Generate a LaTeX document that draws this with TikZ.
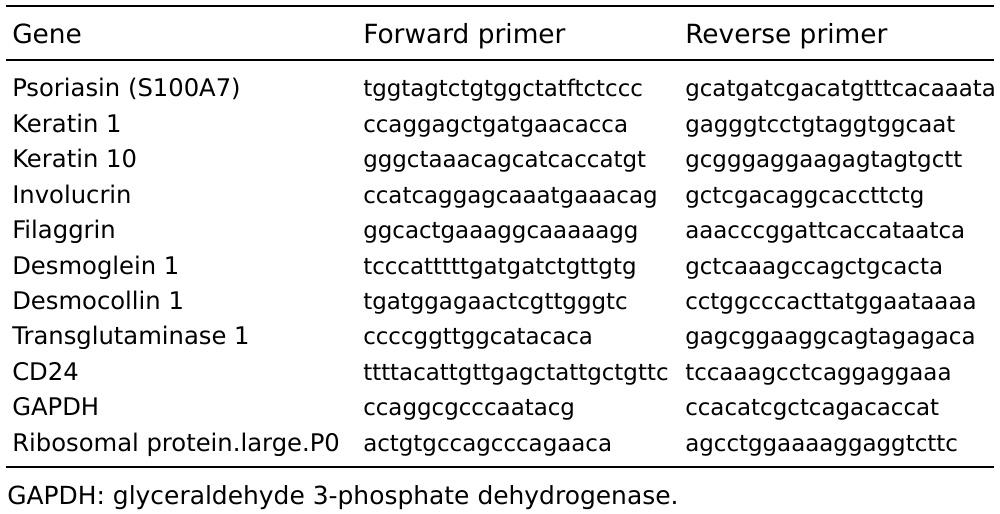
\documentclass[tikz,border=0pt]{standalone}
\usepackage{fontspec}
\setmainfont{DejaVu Sans}
\tikzstyle{cell} = [anchor=base west, inner sep=0pt, font=\fontsize{17.2}{21}\selectfont]
\tikzstyle{genecell} = [cell, font=\fontsize{18.2}{22}\selectfont]
\tikzstyle{headcell} = [cell, font=\fontsize{19.8}{24}\selectfont]
\tikzstyle{notecell} = [cell, font=\fontsize{18.7}{22}\selectfont]
\tikzstyle{rule} = [line width=1.1pt, draw=black]

\begin{document}
\begin{tikzpicture}[x=0.75pt, y=-0.75pt]
\useasboundingbox (0,0) rectangle (1000,514);

% rules
\coordinate (topL) at (6,6);     \coordinate (topR) at (994,6);
\coordinate (midL) at (6,60);    \coordinate (midR) at (994,60);
\coordinate (botL) at (6,467);   \coordinate (botR) at (994,467);
\draw [rule] (topL) -- (topR);
\draw [rule] (midL) -- (midR);
\draw [rule] (botL) -- (botR);

% header
\node [headcell] (hgene) at (12,43.3) {Gene};
\node [headcell] (hfwd) at (363,43.3) {Forward primer};
\node [headcell] (hrev) at (685,43.3) {Reverse primer};

% genes
\node [genecell] (g1) at (12,96.7) {Psoriasin (S100A7)};
\node [genecell] (g2) at (12,132.2) {Keratin 1};
\node [genecell] (g3) at (12,167.6) {Keratin 10};
\node [genecell] (g4) at (12,203.1) {Involucrin};
\node [genecell] (g5) at (12,238.5) {Filaggrin};
\node [genecell] (g6) at (12,274.0) {Desmoglein 1};
\node [genecell] (g7) at (12,309.5) {Desmocollin 1};
\node [genecell] (g8) at (12,344.9) {Transglutaminase 1};
\node [genecell] (g9) at (12,380.4) {CD24};
\node [genecell] (g10) at (12,415.8) {GAPDH};
\node [genecell] (g11) at (12,451.3) {Ribosomal protein.large.P0};

% forward primers
\node [cell] (f1) at (363,96.7) {tggtagtctgtggctatftctccc};
\node [cell] (f2) at (363,132.2) {ccaggagctgatgaacacca};
\node [cell] (f3) at (363,167.6) {gggctaaacagcatcaccatgt};
\node [cell] (f4) at (363,203.1) {ccatcaggagcaaatgaaacag};
\node [cell] (f5) at (363,238.5) {ggcactgaaaggcaaaaagg};
\node [cell] (f6) at (363,274.0) {tcccatttttgatgatctgttgtg};
\node [cell] (f7) at (363,309.5) {tgatggagaactcgttgggtc};
\node [cell] (f8) at (363,344.9) {ccccggttggcatacaca};
\node [cell] (f9) at (363,380.4) {ttttacattgttgagctattgctgttc};
\node [cell] (f10) at (363,415.8) {ccaggcgcccaatacg};
\node [cell] (f11) at (363,451.3) {actgtgccagcccagaaca};

% reverse primers
\node [cell] (r1) at (685,96.7) {gcatgatcgacatgtttcacaaata};
\node [cell] (r2) at (685,132.2) {gagggtcctgtaggtggcaat};
\node [cell] (r3) at (685,167.6) {gcgggaggaagagtagtgctt};
\node [cell] (r4) at (685,203.1) {gctcgacaggcaccttctg};
\node [cell] (r5) at (685,238.5) {aaacccggattcaccataatca};
\node [cell] (r6) at (685,274.0) {gctcaaagccagctgcacta};
\node [cell] (r7) at (685,309.5) {cctggcccacttatggaataaaa};
\node [cell] (r8) at (685,344.9) {gagcggaaggcagtagagaca};
\node [cell] (r9) at (685,380.4) {tccaaagcctcaggaggaaa};
\node [cell] (r10) at (685,415.8) {ccacatcgctcagacaccat};
\node [cell] (r11) at (685,451.3) {agcctggaaaaggaggtcttc};

% footnote
\node [notecell] (note) at (7,504.7) {GAPDH: glyceraldehyde 3-phosphate dehydrogenase.};

\end{tikzpicture}
\end{document}
